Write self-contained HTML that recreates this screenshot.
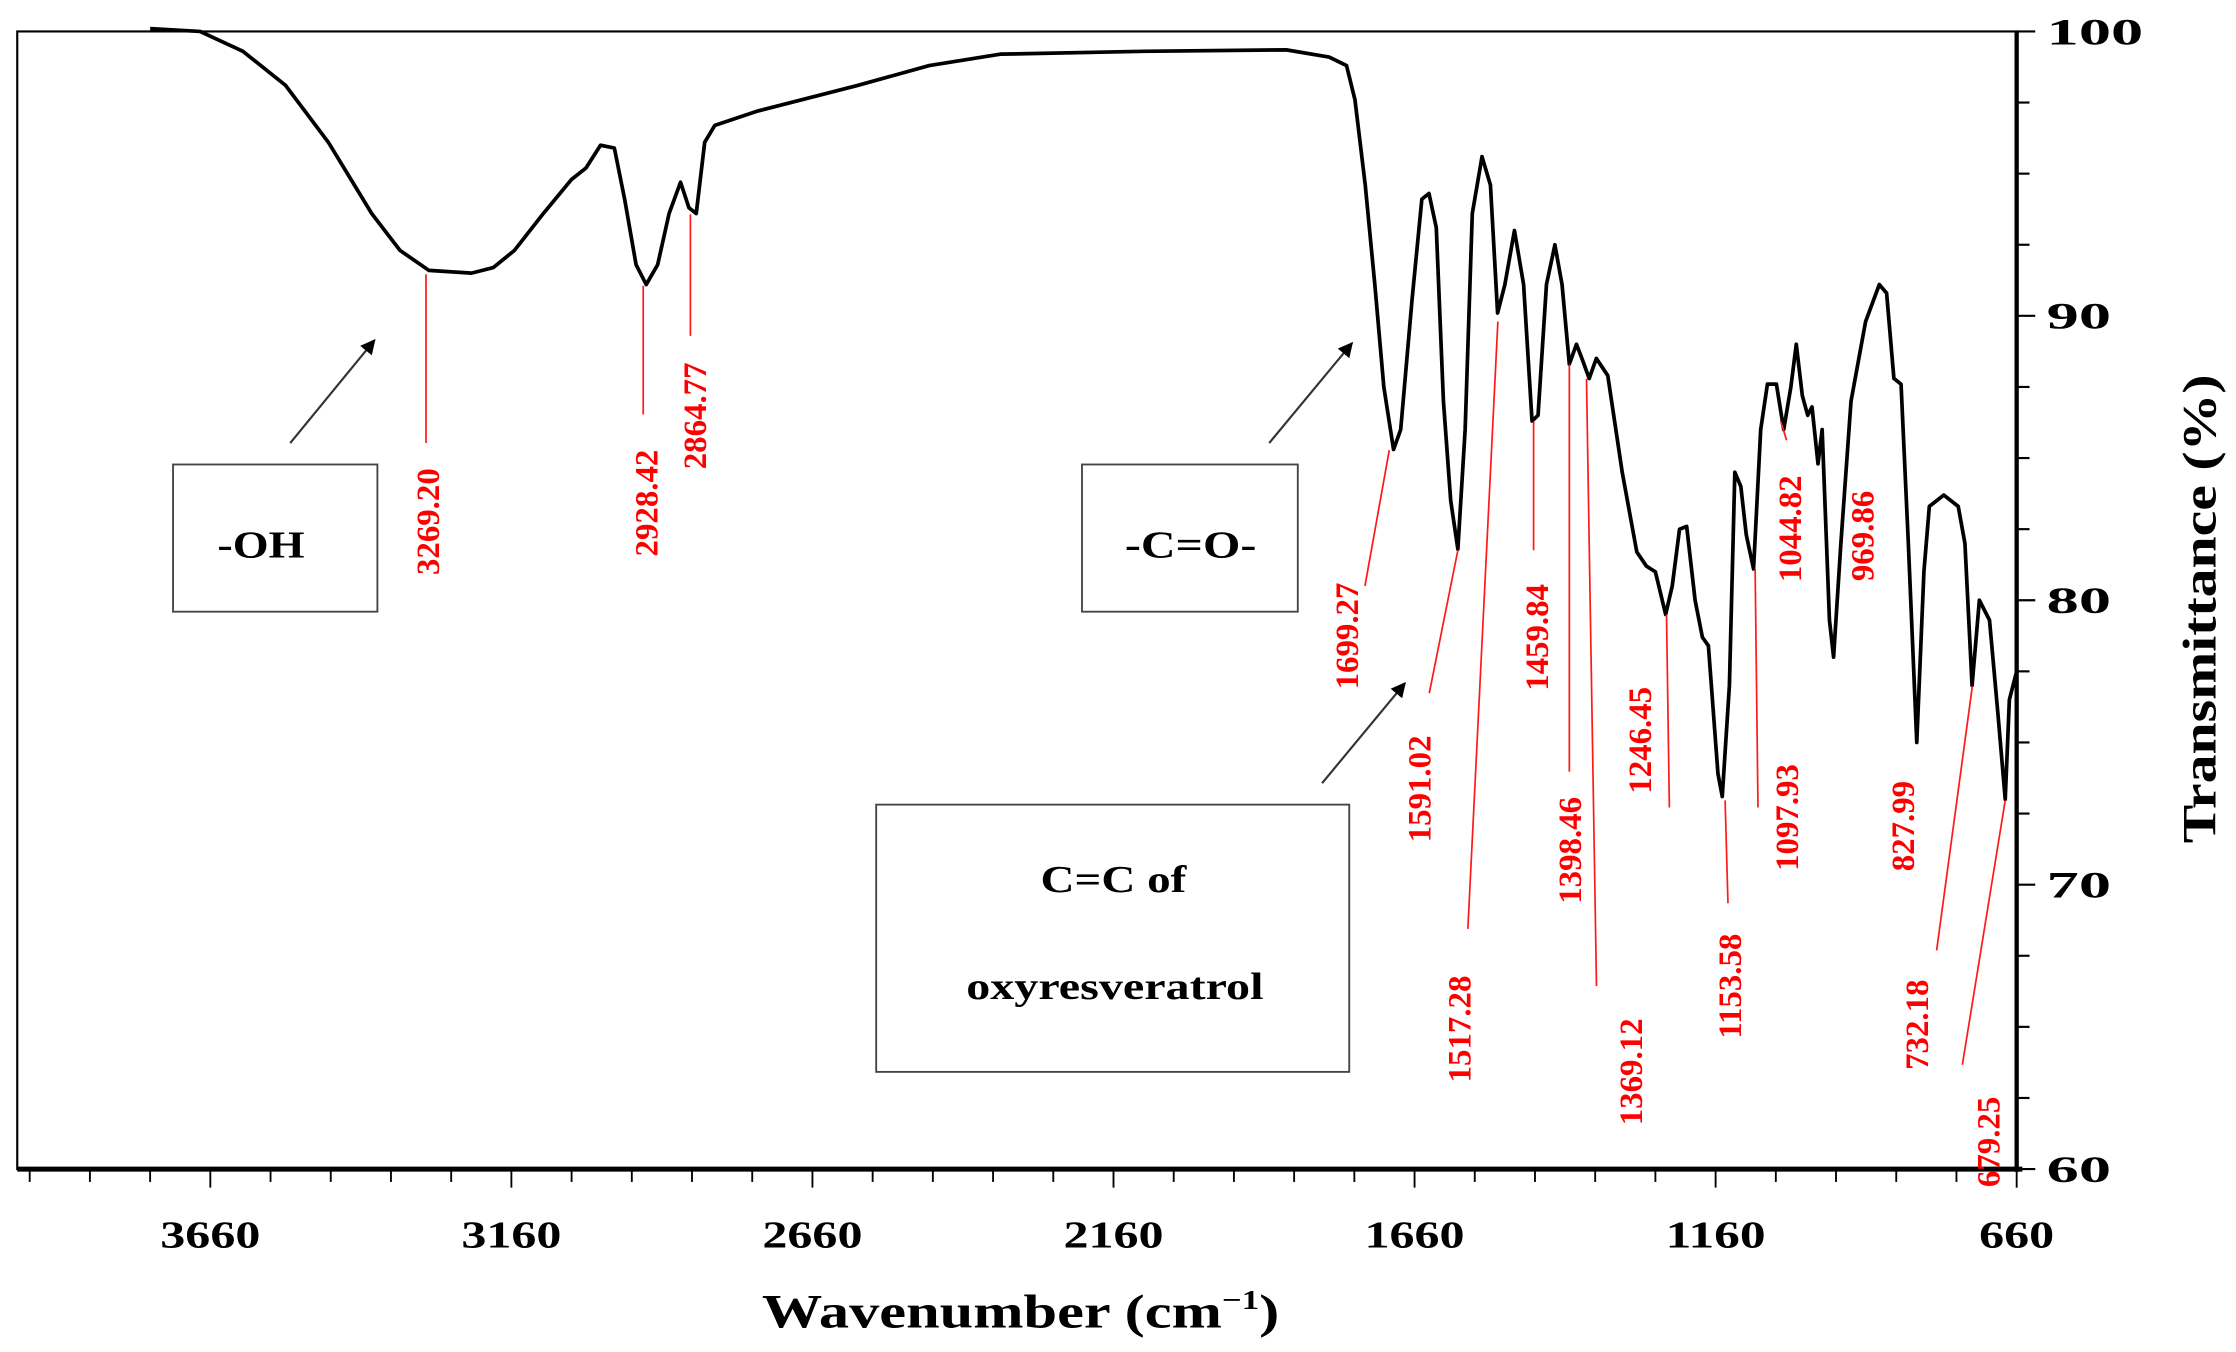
<!DOCTYPE html>
<html><head><meta charset="utf-8"><style>
html,body{margin:0;padding:0;background:#fff;}
svg{display:block;font-family:"Liberation Serif",serif;}
</style></head><body>
<svg id="chart" width="2236" height="1352" viewBox="0 0 1564.4 946" xmlns="http://www.w3.org/2000/svg">
<rect x="0" y="0" width="1564.4" height="946" fill="#fff"/>
<g id="plot"></g>
</svg>
<script>
// Spectrum data (wavenumber cm-1, transmittance %)
const wavenumbers = [3760,3677,3606,3535,3464,3392,3345,3297,3226,3190,3155,3107,3060,3036,3012,2989,2972,2953,2936,2917,2898,2879,2865,2853,2839,2822,2751,2585,2466,2348,2110,1873,1802,1773,1759,1742,1726,1711,1695,1683,1664,1648,1636,1624,1612,1600,1588,1576,1564,1548,1534,1522,1510,1494,1479,1465,1455,1441,1427,1415,1403,1391,1382,1370,1358,1339,1315,1291,1275,1260,1243,1232,1220,1208,1194,1182,1172,1156,1149,1137,1128,1118,1109,1097,1085,1074,1059,1047,1035,1026,1016,1007,1000,990,983,971,964,952,935,911,888,876,864,852,840,826,814,805,781,757,746,734,722,705,691,679,672,660];
const transmittance = [100.1,100,99.3,98.1,96.1,93.6,92.3,91.6,91.5,91.7,92.3,93.6,94.8,95.2,96.0,95.9,94.1,91.8,91.1,91.8,93.6,94.7,93.8,93.6,96.1,96.7,97.2,98.1,98.8,99.2,99.3,99.35,99.1,98.8,97.6,94.6,91.1,87.5,85.3,86,90.6,94.1,94.3,93.1,87,83.5,81.8,86,93.6,95.6,94.6,90.1,91.1,93,91.1,86.3,86.5,91.1,92.5,91.1,88.3,89,88.5,87.8,88.5,87.9,84.5,81.7,81.2,81,79.5,80.5,82.5,82.6,80,78.7,78.4,73.9,73.1,77,84.5,84,82.3,81.1,86,87.6,87.6,86,87.5,89,87.2,86.5,86.8,84.8,86,79.3,78,82,87,89.8,91.1,90.8,87.8,87.6,82,75,81,83.3,83.7,83.3,82,77,80,79.3,76,73,76.5,77.5];
const xTickLabels = [3660,3160,2660,2160,1660,1160,660];
const yTickLabels = [60,70,80,90,100];
const peakLabels = ["3269.20","2928.42","2864.77","1699.27","1591.02","1517.28","1459.84","1398.46","1369.12","1246.45","1153.58","1097.93","1044.82","969.86","827.99","732.18","679.25"];

const NS="http://www.w3.org/2000/svg";
const L=12,R=1411,T=22,B=818;
function xs(w){return R-(w-660)*0.4213;}
function ys(v){return T+(100-v)*19.9;}
const g=document.getElementById('plot');
function mk(tag,attrs,parent){const e=document.createElementNS(NS,tag);for(const k in attrs)e.setAttribute(k,attrs[k]);(parent||g).appendChild(e);return e;}

let fr=mk('rect',{x:L,y:T,width:R-L,height:B-T,fill:'none',stroke:'#000','stroke-width':1.5});


let xa=mk('line',{x1:L,y1:B,x2:R+4,y2:B,stroke:'#000','stroke-width':3.5});


let ya=mk('line',{x1:R,y1:T,x2:R,y2:B+2,stroke:'#000','stroke-width':3});



for(let w=3960;w>=660;w-=100){
  const major=xTickLabels.indexOf(w)>=0;
  let t=mk('line',{x1:xs(w),y1:B,x2:xs(w),y2:B+(major?13:9),stroke:'#000','stroke-width':1.3});
  
  
}
xTickLabels.forEach(w=>{
  const s=String(w);
  let t=mk('text',{x:xs(w),y:873,'text-anchor':'middle','font-size':27,'font-weight':'bold',textLength:s.length*17.5,lengthAdjust:'spacingAndGlyphs'});
  t.textContent=s;
  
  
});
for(let v=60;v<=100;v+=2.5){
  const major=v%10===0;
  let t=mk('line',{x1:R,y1:ys(v),x2:R+(major?13:9),y2:ys(v),stroke:'#000','stroke-width':1.5});
  
  
}
yTickLabels.forEach(v=>{
  const s=String(v);
  let t=mk('text',{x:1432,y:ys(v)+9,'text-anchor':'start','font-size':26,'font-weight':'bold',textLength:s.length*22.5,lengthAdjust:'spacingAndGlyphs'});
  t.textContent=s;
  
  
});
let xt=mk('text',{x:533,y:929,'text-anchor':'start','font-size':33,'font-weight':'bold',textLength:362,lengthAdjust:'spacingAndGlyphs'});
xt.innerHTML='Wavenumber (cm<tspan font-size="19" dy="-13">−1</tspan><tspan dy="13">)</tspan>';


let yt=mk('text',{transform:'translate(1550,590) rotate(-90)','text-anchor':'start','font-size':33,'font-weight':'bold',textLength:328,lengthAdjust:'spacingAndGlyphs'});
yt.textContent='Transmittance (%)';



let d='';
wavenumbers.forEach((w,i)=>{d+=(i?'L':'M')+xs(w).toFixed(1)+','+ys(transmittance[i]).toFixed(1);});
let p=mk('path',{d:d,fill:'none',stroke:'#000','stroke-width':2.6,'stroke-linejoin':'round'});



const leaders=[[298,192,298,310],[450,200,450,290],[483,150,483,235],[972,315,955,410],[1020,385,1000,485],[1048,225,1027,650],[1073,295,1073,385],[1098,255,1098,540],[1110,265,1117,690],[1166,430,1168,565],[1207,560,1209,632],[1228,398,1230,565],[1246,295,1250,308],[1380,480,1355,665],[1403,560,1373,745]];
leaders.forEach(l=>{
  let e=mk('line',{x1:l[0],y1:l[1],x2:l[2],y2:l[3],stroke:'#ff1a1a','stroke-width':1.2});
  
  
});
const labelPos=[[299,365],[452,352],[486,291],[942,445],[993,552],[1021,720],[1075,446],[1098,595],[1141,750],[1147,518],[1210,690],[1250,572],[1252,370],[1303,375],[1331,578],[1341,717],[1391,799]];
peakLabels.forEach((s,i)=>{
  const c=labelPos[i];
  let t=mk('text',{transform:`translate(${c[0]+8},${c[1]}) rotate(-90)`,'text-anchor':'middle','font-size':23,'font-weight':'bold',fill:'#ff0000'});
  t.textContent=s;
  
  
});

mk('defs',{}).innerHTML='<marker id="ah" viewBox="0 0 10 10" refX="9" refY="5" markerWidth="7" markerHeight="7" orient="auto"><path d="M0,0L10,5L0,10z" fill="#000"/></marker>';
function box(x,y,w,h,name){let r=mk('rect',{x:x,y:y,width:w,height:h,fill:'#fff',stroke:'#444','stroke-width':1.3});}
function arrow(x1,y1,x2,y2){let a=mk('line',{x1:x1,y1:y1,x2:x2,y2:y2,stroke:'#333','stroke-width':1.5,'marker-end':'url(#ah)'});}
function label(x,y,s,len){let t=mk('text',{x:x,y:y,'text-anchor':'start','font-size':27,'font-weight':'bold',textLength:len,lengthAdjust:'spacingAndGlyphs'});t.textContent=s;}
box(121,325,143,103,'oh-box'); label(152,390,'-OH',61); arrow(203,310,262,238);
box(757,325,151,103,'carbonyl-box'); label(787,390,'-C=O-',92); arrow(888,310,946,240);
box(613,563,331,187,'cc-box'); label(728,624,'C=C of',102); label(676,699,'oxyresveratrol',208); arrow(925,548,983,478);
</script>
</body></html>
